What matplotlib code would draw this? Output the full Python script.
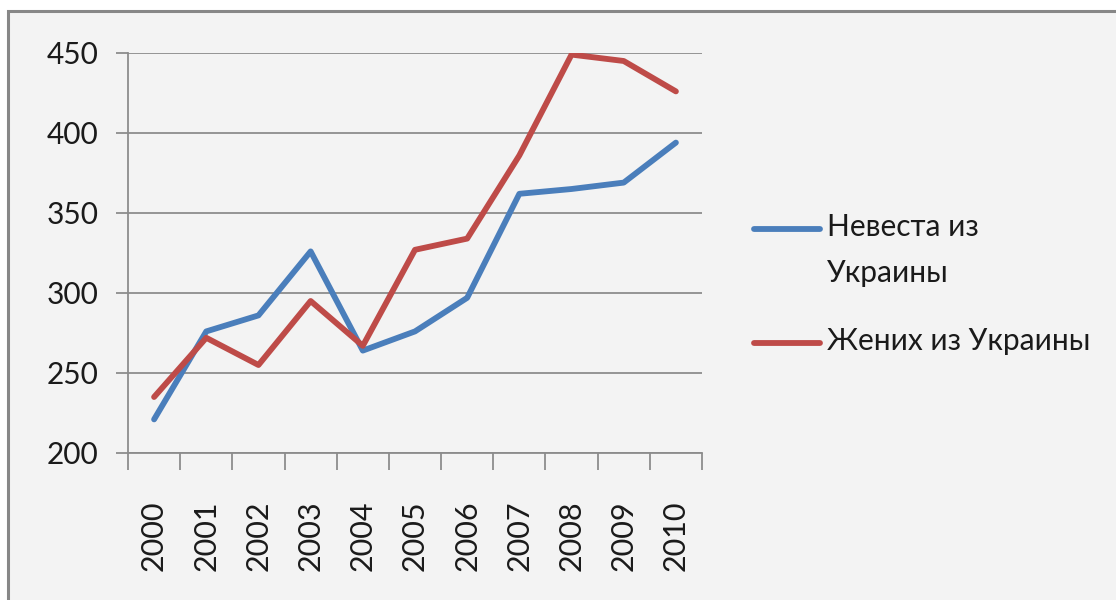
import matplotlib
matplotlib.use("Agg")
import matplotlib.pyplot as plt
from matplotlib.patches import Rectangle
from matplotlib.lines import Line2D
import numpy as np

years = ["2000", "2001", "2002", "2003", "2004", "2005",
         "2006", "2007", "2008", "2009", "2010"]
bride = [221, 276, 286, 326, 264, 276, 297, 362, 365, 369, 394]
groom = [235, 272, 255, 295, 267, 327, 334, 386, 449, 445, 426]
bride_label = "Невеста из\nУкраины"
groom_label = "Жених из Украины"
yticks = [200, 250, 300, 350, 400, 450]

plt.rcParams['font.family'] = ['Lato', 'DejaVu Sans']

W, H = 1116, 600
fig = plt.figure(figsize=(W / 100, H / 100), dpi=100, facecolor='white')

# outer chart frame (clipped at right/bottom like the screenshot)
frame = Rectangle((8 / W, -0.1), 1.2, 1 - 10.5 / H + 0.1, transform=fig.transFigure,
                  facecolor='#f3f3f3', edgecolor='#878787', linewidth=2.2, zorder=-5)
fig.patches.append(frame)

ax = fig.add_axes([128 / W, 1 - 453 / H, 574 / W, 400 / H])
ax.set_facecolor('none')

x = np.arange(len(years))
blue = '#4a7ebb'
red = '#be4b48'
ax.plot(x, bride, color=blue, lw=4.2, solid_capstyle='round', solid_joinstyle='round',
        zorder=3)
ax.plot(x, groom, color=red, lw=4.2, solid_capstyle='round', solid_joinstyle='round',
        zorder=3)

ax.set_xlim(-0.5, len(years) - 0.5)
ax.set_ylim(200, 450)
ax.set_yticks(yticks)
ax.set_yticklabels([str(v) for v in yticks])
ax.set_xticks(x)
ax.set_xticklabels(years, rotation=90)
ax.set_xticks(np.arange(len(years) + 1) - 0.5, minor=True)

ax.yaxis.grid(True, color='#8c8c8c', lw=1.3)
ax.set_axisbelow(True)
for s in ['top', 'right']:
    ax.spines[s].set_visible(False)
for s in ['left', 'bottom']:
    ax.spines[s].set_color('#8c8c8c')
    ax.spines[s].set_linewidth(1.3)

ax.tick_params(axis='y', length=9, width=1.3, color='#8c8c8c', labelsize=21.5,
               labelcolor='#1a1a1a', pad=12)
ax.tick_params(axis='x', which='major', length=0, labelsize=22, labelcolor='#1a1a1a', pad=34)
ax.tick_params(axis='x', which='minor', length=12, width=1.3, color='#8c8c8c')

# legend drawn by hand so the handle sits on the first text line
def legend_entry(y_px, color, label):
    y = 1 - y_px / H
    fig.add_artist(Line2D([754 / W, 820 / W], [y, y], transform=fig.transFigure,
                          color=color, lw=4.2, solid_capstyle='round'))
    fig.text(827 / W, y + 16 / H, label, fontsize=21.5, color='#1a1a1a', va='top',
             ha='left', linespacing=1.8, transform=fig.transFigure)

legend_entry(229, blue, bride_label)
legend_entry(343, red, groom_label)

fig.savefig("out.png", dpi=100, facecolor='white')
